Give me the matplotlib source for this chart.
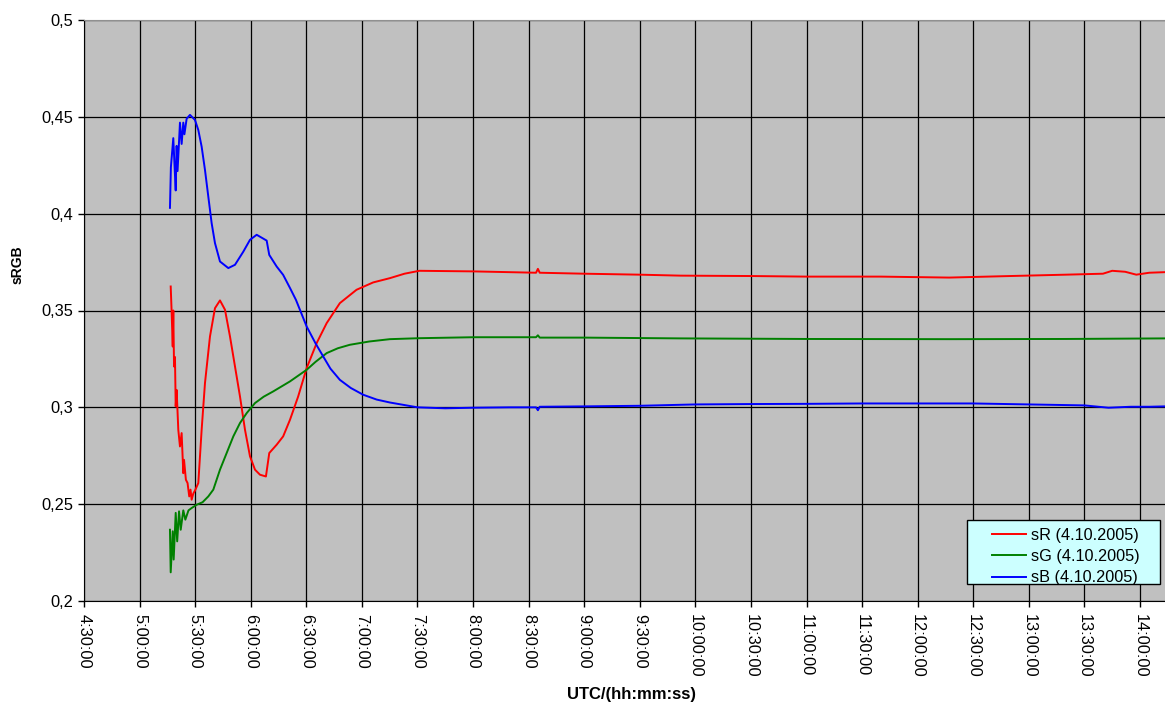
import numpy as np
import matplotlib
matplotlib.use('Agg')
import matplotlib.pyplot as plt
from matplotlib.ticker import FuncFormatter, MultipleLocator
from matplotlib.patches import Rectangle

plt.rcParams['font.family'] = ['Liberation Sans', 'DejaVu Sans']

# time in minutes after midnight (UTC)
t_red = [316.8, 317.2, 317.9, 318.2, 318.6, 319.1, 319.5, 320.0, 320.9, 321.8,
         322.7, 323.6, 324.0, 325.0, 325.9, 326.8, 327.5, 328.1, 329.0, 329.9,
         331.7, 333.5, 335.3, 338.0, 340.7, 343.4, 346.1, 348.8, 351.5, 354.2,
         356.9, 359.6, 362.3, 365.0, 368.2, 370.0, 374.0, 377.5, 381.2, 385.6,
         390.2, 395.6, 401.0, 408.1, 417.1, 426.1, 435.1, 443, 451, 480,
         514, 515, 516, 540, 570, 592, 630, 660, 700, 737,
         770, 800, 820, 825, 832, 838, 845, 853.5]
sR = [0.3624, 0.352, 0.3314, 0.350, 0.3211, 0.326, 0.3005, 0.309, 0.2884, 0.2798,
      0.2867, 0.266, 0.2729, 0.2626, 0.2609, 0.254, 0.2575, 0.2523, 0.2555, 0.2570,
      0.2609, 0.2884, 0.3125, 0.3366, 0.3512, 0.3552, 0.3504, 0.3366, 0.3211, 0.3056,
      0.2884, 0.2747, 0.2678, 0.2652, 0.2643, 0.2764, 0.2807, 0.2850, 0.2936, 0.3056,
      0.3203, 0.3332, 0.3435, 0.3538, 0.3607, 0.3645, 0.3667, 0.3690, 0.3705, 0.3702,
      0.3695, 0.3715, 0.3695, 0.3690, 0.3685, 0.3680, 0.3678, 0.3675, 0.3675, 0.3670,
      0.3678, 0.3685, 0.3690, 0.3705, 0.3700, 0.3685, 0.3695, 0.3698]

t_green = [316.4, 316.8, 317.9, 318.4, 319.5, 320.3, 321.3, 322.2, 323.6, 324.7,
           326.4, 328.1, 330.8, 334.0, 337.1, 339.8, 343.4, 347.0, 350.6, 354.2,
           357.8, 362.3, 367.0, 372.1, 381.2, 390.2, 395.0, 401.0, 407.0, 413.5,
           424.0, 435.1, 451, 480, 514, 515, 516, 540, 592, 660,
           737, 800, 853.5]
sG = [0.2368, 0.2148, 0.2360, 0.2214, 0.2455, 0.2308, 0.2463, 0.2368, 0.2468, 0.2420,
      0.2468, 0.2480, 0.2497, 0.2510, 0.2540, 0.2575, 0.2678, 0.2764, 0.2850, 0.2919,
      0.2970, 0.3022, 0.3055, 0.3082, 0.3134, 0.3194, 0.3235, 0.3280, 0.3305, 0.3323,
      0.3340, 0.3352, 0.3357, 0.3362, 0.3362, 0.3372, 0.3360, 0.3360, 0.3356, 0.3353,
      0.3352, 0.3353, 0.3356]

t_blue = [316.4, 316.9, 318.2, 319.1, 319.5, 320.0, 320.5, 321.8, 322.7, 323.6,
          324.2, 325.4, 327.2, 329.9, 331.7, 333.5, 335.3, 337.1, 338.9, 340.7,
          343.4, 347.9, 351.5, 356.0, 359.6, 363.2, 368.6, 370.0, 374.0, 377.5,
          381.2, 384.4, 390.2, 395.0, 399.1, 403.0, 408.1, 414.0, 420.7, 428.0,
          435.1, 450, 465, 480, 500, 514, 515, 516, 540, 570,
          600, 630, 660, 690, 720, 750, 780, 810, 823, 835,
          845, 853.5]
sB = [0.403, 0.424, 0.439, 0.420, 0.412, 0.435, 0.422, 0.447, 0.436, 0.447,
      0.441, 0.449, 0.451, 0.4484, 0.4432, 0.4346, 0.4226, 0.4088, 0.3951, 0.3848,
      0.3753, 0.3719, 0.3736, 0.3804, 0.3865, 0.3891, 0.3861, 0.3787, 0.3727, 0.3684,
      0.3616, 0.3555, 0.3417, 0.3330, 0.3263, 0.3200, 0.3142, 0.3100, 0.3065, 0.3040,
      0.3025, 0.3000, 0.2995, 0.2998, 0.3000, 0.3000, 0.2985, 0.3003, 0.3005, 0.3008,
      0.3015, 0.3017, 0.3018, 0.3020, 0.3020, 0.3020, 0.3015, 0.3010, 0.2998, 0.3003,
      0.3003, 0.3005]

labels = ['sR (4.10.2005)', 'sG (4.10.2005)', 'sB (4.10.2005)']
colors = ['#FF0000', '#008000', '#0000FF']


def hms(x, pos):
    h = int(x // 60)
    m = int(round(x - h * 60))
    return '{}:{:02d}:00'.format(h, m)


fig = plt.figure(figsize=(11.65, 7.04), dpi=100)
ax = fig.add_axes([84 / 1165, 1 - 601 / 704, 1 - 84 / 1165, (601 - 20) / 704])
ax.set_facecolor('#C0C0C0')

lines = []
for t, v, c in zip([t_red, t_green, t_blue], [sR, sG, sB], colors):
    ln, = ax.plot(t, v, color=c, lw=1.4)
    lines.append(ln)

ax.set_xlim(270, 853.5)
ax.set_ylim(0.2, 0.5)
ax.xaxis.set_major_locator(MultipleLocator(30))
ax.yaxis.set_major_locator(MultipleLocator(0.05))
ax.xaxis.set_major_formatter(FuncFormatter(hms))
ax.yaxis.set_major_formatter(FuncFormatter(lambda y, p: ('%g' % round(y, 2)).replace('.', ',')))
ax.grid(True, color='black', lw=0.9)
ax.set_axisbelow(True)

ax.tick_params(axis='both', direction='out', length=4, width=1, color='black', labelsize=11.8)
ax.tick_params(axis='x', labelrotation=270, pad=5)
for lbl in ax.get_xticklabels():
    lbl.set_va('top')
ax.spines['right'].set_visible(False)
ax.spines['top'].set_color('#909090')
ax.spines['left'].set_color('black')
ax.spines['bottom'].set_color('black')

fig.text(18 / 1165, 1 - 265 / 704, 'sRGB', rotation=90, fontsize=10, fontweight='bold',
         ha='center', va='center')
fig.text(631 / 1165, 1 - 695 / 704, 'UTC/(hh:mm:ss)', fontsize=12, fontweight='bold',
         ha='center', va='center')

# legend box drawn by hand to match the padding
fig.patches.append(Rectangle((967 / 1165, 1 - 584 / 704), (1160 - 967) / 1165, (584 - 520) / 704,
                             transform=fig.transFigure, facecolor='#CCFFFF', edgecolor='black',
                             lw=1, zorder=5))
leg = fig.legend(lines, labels, loc='upper left', bbox_to_anchor=(979 / 1165, 1 - 515 / 704),
                 frameon=False, fontsize=11.7, handlelength=2.1, handletextpad=0.3,
                 labelspacing=0.38, borderpad=0.3)
leg.set_zorder(6)

fig.savefig('out.png', dpi=100)
